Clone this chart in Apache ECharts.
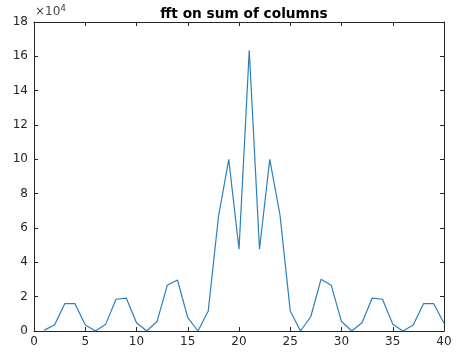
<!DOCTYPE html>
<html>
<head>
<meta charset="utf-8">
<script src="https://cdn.jsdelivr.net/npm/echarts@6/dist/echarts.min.js"></script>
<style>
  html, body { margin: 0; padding: 0; background: #fff; }
  #main { width: 456px; height: 353px; }
</style>
</head>
<body>
<div id="main"></div>
<script>
// x = bin index, y = magnitude in units of 1e4
const bins = []
for (let i = 1; i <= 40; i++) bins.push(i)
const magnitude = [
  0.05, 0.35, 1.59, 1.59, 0.35, 0.0, 0.4, 1.85, 1.92, 0.48,
  0.0, 0.55, 2.66, 2.97, 0.78, 0.0, 1.17, 6.67, 10.0, 4.76,
  16.35, 4.76, 10.0, 6.75, 1.17, 0.0, 0.83, 3.01, 2.66, 0.55,
  0.0, 0.48, 1.92, 1.85, 0.4, 0.0, 0.35, 1.59, 1.59, 0.45
]

const chart = echarts.init(document.getElementById('main'))

const axisColor = '#262626'
const font = 'DejaVu Sans'

// 箱线风格的坐标轴（四边都画，刻度朝内）
function xAx(pos, showLabel) {
  return {
    type: 'value', position: pos, min: 0, max: 40, interval: 5,
    axisLine: { show: true, onZero: false, lineStyle: { color: axisColor, width: 1 } },
    axisTick: { show: true, inside: true, length: 4, lineStyle: { color: axisColor } },
    axisLabel: { show: showLabel, color: axisColor, fontSize: 12, fontFamily: font, margin: 5 },
    splitLine: { show: false }
  }
}
function yAx(pos, showLabel) {
  return {
    type: 'value', position: pos, min: 0, max: 18, interval: 2,
    axisLine: { show: true, onZero: false, lineStyle: { color: axisColor, width: 1 } },
    axisTick: { show: true, inside: true, length: 4, lineStyle: { color: axisColor } },
    axisLabel: { show: showLabel, color: axisColor, fontSize: 12, fontFamily: font, margin: 6 },
    splitLine: { show: false }
  }
}

const option = {
  backgroundColor: '#ffffff',
  animation: false,
  title: {
    text: 'fft on sum of columns',
    left: 239, top: 2, textAlign: 'center',
    textStyle: { fontSize: 13.7, fontWeight: 'bold', fontFamily: font, color: '#000' }
  },
  grid: { left: 34, right: 12, top: 22, bottom: 22 },
  xAxis: [xAx('bottom', true), xAx('top', false)],
  yAxis: [yAx('left', true), yAx('right', false)],
  graphic: [{
    type: 'text', left: 35, top: 4,
    style: {
      text: '{a|×10}{b|4}',
      rich: {
        a: { fontSize: 12, fontFamily: font, fill: '#444' },
        b: { fontSize: 9, fontFamily: font, fill: '#444', verticalAlign: 'top', padding: [0, 0, 6, 0] }
      }
    }
  }],
  series: [{
    type: 'line',
    data: bins.map((b, i) => [b, magnitude[i]]),
    showSymbol: false,
    lineStyle: { color: '#2a80ba', width: 1.2 },
    itemStyle: { color: '#2a80ba' }
  }]
}

chart.setOption(option)
</script>
</body>
</html>
